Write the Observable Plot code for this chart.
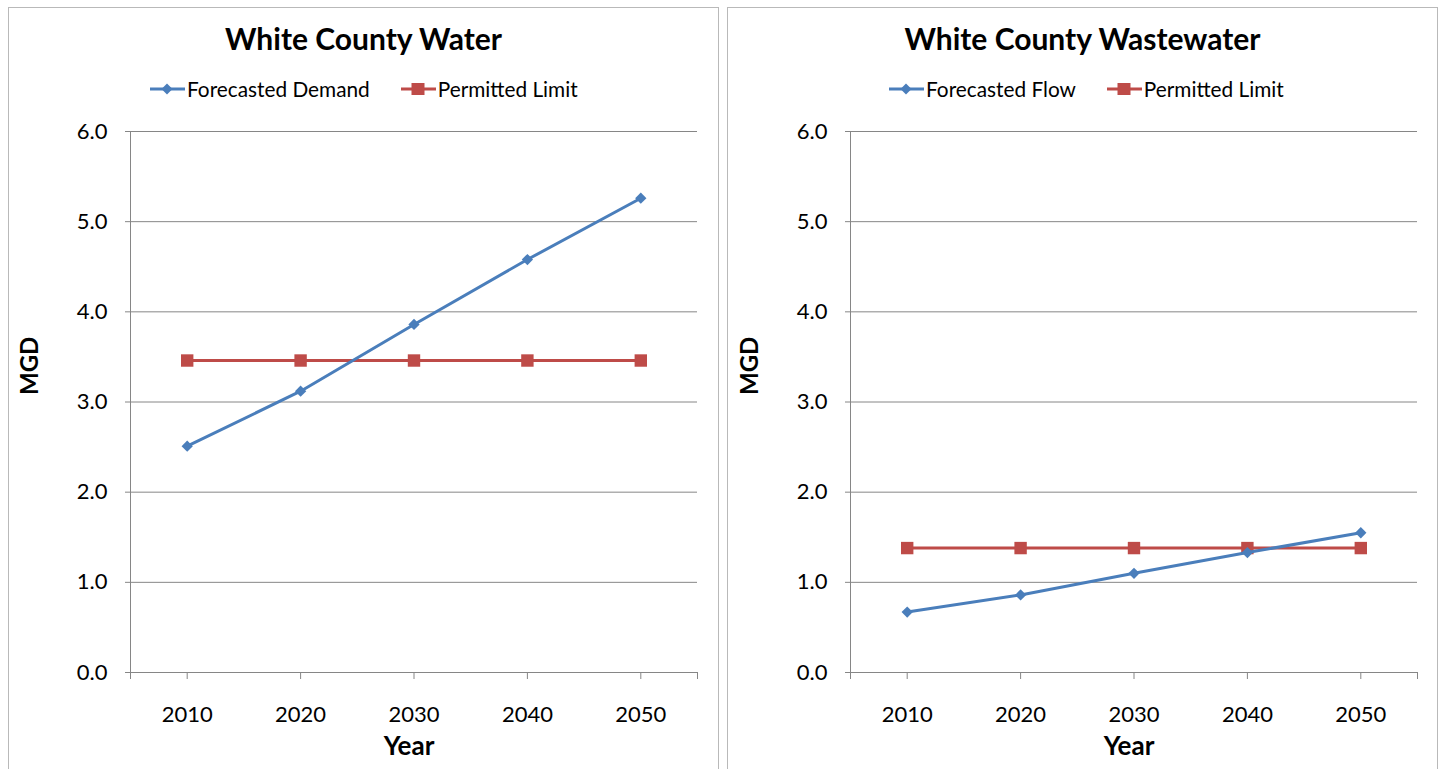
<!DOCTYPE html>
<html>
<head>
<meta charset="utf-8">
<script src="https://cdn.jsdelivr.net/npm/d3@7"></script>
<script src="https://cdn.jsdelivr.net/npm/@observablehq/plot@0.6"></script>
<style>
  html, body { margin: 0; padding: 0; background: #fff; }
  body { width: 1443px; height: 769px; position: relative; overflow: hidden; font-family: Lato, "Open Sans", sans-serif; }
  .panel { position: absolute; top: 7px; height: 800px; border: 1px solid #b9b9b9; box-sizing: border-box; }
  .title { position: absolute; top: 20px; font-weight: bold; font-size: 30px; text-align: center; color: #000; }
  .legend { position: absolute; top: 76px; font-size: 20.8px; color: #000; white-space: nowrap; display: flex; align-items: center; }
  .legend .item { display: inline-flex; align-items: center; margin-right: 31px; }
  .legend svg { margin-right: 2px; }
  .abs { position: absolute; top: 0; }
  #toptitle { position: absolute; left: 0; top: 0; height: 4px; overflow: hidden; width: 1443px; }
</style>
</head>
<body>
<div id="toptitle"></div>
<div class="panel" style="left:8px;width:711px;"></div>
<div class="panel" style="left:727px;width:711px;"></div>
<div class="title" style="left:8px;width:711px;">White County Water</div>
<div class="title" style="left:727px;width:711px;">White County Wastewater</div>
<div class="legend" id="leg1" style="left:150px;"></div>
<div class="legend" id="leg2" style="left:889px;"></div>
<div class="abs" id="c1" style="left:0px;"></div>
<div class="abs" id="c2" style="left:720px;"></div>
<script>
// ---- data ----
const years = [2010, 2020, 2030, 2040, 2050];
const waterDemand = [2.51, 3.12, 3.86, 4.58, 5.26];
const waterLimit = [3.46, 3.46, 3.46, 3.46, 3.46];
const wastewaterFlow = [0.67, 0.86, 1.10, 1.33, 1.55];
const wastewaterLimit = [1.38, 1.38, 1.38, 1.38, 1.38];
const yTicks = [0, 1, 2, 3, 4, 5, 6];
const pageTitle = "WHITE COUNTY COMPARISON OF PERMITTED LIMIT AND FORECASTED DEMAND: LOW";

const BLUE = "#4A7EBB", RED = "#BE4B48", GRID = "#868686";

const diamond = {
  draw(ctx, size) {
    const s = Math.sqrt(size / 2);
    ctx.moveTo(0, -s); ctx.lineTo(s, 0); ctx.lineTo(0, s); ctx.lineTo(-s, 0); ctx.closePath();
  }
};

// top (cut-off) page title
(function () {
  const ns = "http://www.w3.org/2000/svg";
  const svg = document.createElementNS(ns, "svg");
  svg.setAttribute("width", 1443); svg.setAttribute("height", 4);
  const t = document.createElementNS(ns, "text");
  t.setAttribute("x", 0); t.setAttribute("y", 4);
  t.setAttribute("textLength", 930); t.setAttribute("lengthAdjust", "spacingAndGlyphs");
  t.setAttribute("font-size", 17); t.setAttribute("font-family", "Lato, sans-serif");
  t.textContent = pageTitle;
  svg.appendChild(t);
  document.getElementById("toptitle").appendChild(svg);
})();

function legend(el, items) {
  const box = document.getElementById(el);
  for (const it of items) {
    const span = document.createElement("span");
    span.className = "item";
    const sym = it.shape === "diamond"
      ? `<polygon points="17,1.5 22.5,7 17,12.5 11.5,7" fill="${it.color}"/>`
      : `<rect x="10.5" y="1" width="13" height="12" fill="${it.color}"/>`;
    span.innerHTML = `<svg width="35" height="14"><line x1="0" x2="35" y1="7" y2="7" stroke="${it.color}" stroke-width="3"/>${sym}</svg><span>${it.label}</span>`;
    box.appendChild(span);
  }
}
legend("leg1", [{label: "Forecasted Demand", color: BLUE, shape: "diamond"}, {label: "Permitted Limit", color: RED, shape: "square"}]);
legend("leg2", [{label: "Forecasted Flow", color: BLUE, shape: "diamond"}, {label: "Permitted Limit", color: RED, shape: "square"}]);

function chart(series, limit, width, marginRight) {
  const data = years.map((y, i) => ({year: y, v: series[i]}));
  const lim = years.map((y, i) => ({year: y, v: limit[i]}));
  return Plot.plot({
    width, height: 769,
    marginLeft: 130, marginRight, marginTop: 131, marginBottom: 97,
    style: {fontFamily: "Lato, 'Open Sans', sans-serif", background: "transparent", color: "#000"},
    x: {domain: [2005, 2055], label: null},
    y: {domain: [0, 6], label: null},
    marks: [
      Plot.gridY(yTicks, {stroke: GRID, strokeOpacity: 1}),
      Plot.ruleX([2005], {stroke: GRID, strokeWidth: 1}),
      Plot.axisY(yTicks, {tickSize: 5, tickPadding: 18, stroke: GRID, fontSize: 22, tickFormat: d => d.toFixed(1)}),
      Plot.axisX([2005, 2010, 2020, 2030, 2040, 2050, 2055], {tickSize: 7, tickPadding: 27, stroke: GRID, fontSize: 22, tickFormat: d => (d === 2005 || d === 2055) ? "" : String(d)}),
      Plot.ruleY([0], {stroke: GRID}),
      Plot.line(lim, {x: "year", y: "v", stroke: RED, strokeWidth: 3}),
      Plot.dot(lim, {x: "year", y: "v", symbol: "square", r: 7, fill: RED}),
      Plot.line(data, {x: "year", y: "v", stroke: BLUE, strokeWidth: 3}),
      Plot.dot(data, {x: "year", y: "v", symbol: diamond, r: 4.5, fill: BLUE}),
      Plot.text(["MGD"], {frameAnchor: "left", dx: -100, dy: -7, rotate: -90, fontSize: 24, fontWeight: "bold"}),
      Plot.text(["Year"], {frameAnchor: "bottom", dy: 82, dx: -5, fontSize: 26, fontWeight: "bold"})
    ]
  });
}

document.getElementById("c1").appendChild(chart(waterDemand, waterLimit, 720, 23));
document.getElementById("c2").appendChild(chart(wastewaterFlow, wastewaterLimit, 723, 26));
</script>
</body>
</html>
